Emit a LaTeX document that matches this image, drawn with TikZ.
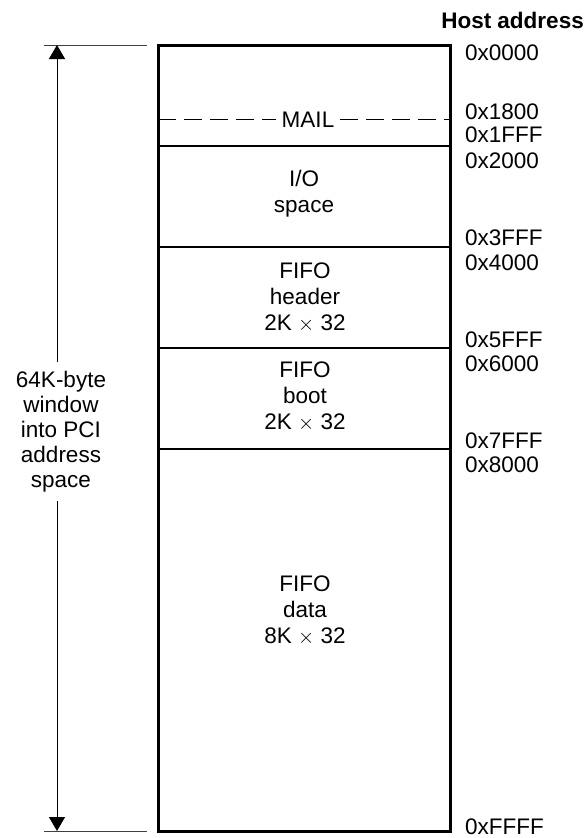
\documentclass[tikz,border=0pt]{standalone}
\usepackage{fontspec}
\setmainfont{Liberation Sans}
\usetikzlibrary{arrows.meta,positioning}
\tikzset{
  addr/.style={anchor=base west,inner sep=0pt},
  region/.style={align=center,anchor=base,inner sep=0pt},
  divider/.style={line width=1.1pt},
  edgeline/.style={line width=0.9pt,black!75},
  maplimit/.style={line width=3pt,line join=miter},
  mailline/.style={line width=1pt,dash pattern=on 18pt off 8pt},
  window/.style={line width=1pt,-{Triangle[length=14pt,width=16pt]}},
}

\begin{document}
\begin{tikzpicture}[x=1pt,y=-1pt,font=\fontsize{22.5}{26}\selectfont]
  \useasboundingbox (0,0) rectangle (586,838);

  % Memory map frame
  \coordinate (mtl) at (158,45);
  \coordinate (mbr) at (450,831);
  \draw[maplimit] (mtl) rectangle (mbr);

  % Region borders
  \foreach \y in {146,247,348,449}
    \draw[divider] (158,\y) -- (450,\y);

  % Mailbox area
  \node[inner sep=6pt] (mail) at (308,120) {MAIL};
  \draw[mailline] (158,119) -- (mail.west |- 0,119);
  \draw[mailline] (mail.east |- 0,119) -- (450,119);

  % Region texts (base = last line)
  \node[region] (iosp) at (304,212) {I/O\\space};
  \node[region] (fhead) at (305,330) {FIFO\\header\\2K $\times$ 32};
  \node[region] (fboot) at (305,429) {FIFO\\boot\\2K $\times$ 32};
  \node[region] (fdata) at (305,643) {FIFO\\data\\8K $\times$ 32};

  % Host addresses
  \node[anchor=base east,inner sep=0pt,font=\fontsize{22.5}{26}\selectfont\bfseries]
    (host) at (584,28) {Host address};
  \node[addr] (a0000) at (465,60)  {0x0000};
  \node[addr] (a1800) at (465,119) {0x1800};
  \node[addr] (a1fff) at (465,142) {0x1FFF};
  \node[addr] (a2000) at (465,168) {0x2000};
  \node[addr] (a3fff) at (465,245) {0x3FFF};
  \node[addr] (a4000) at (465,270) {0x4000};
  \node[addr] (a5fff) at (465,347) {0x5FFF};
  \node[addr] (a6000) at (465,371) {0x6000};
  \node[addr] (a7fff) at (465,448) {0x7FFF};
  \node[addr] (a8000) at (465,472) {0x8000};
  \node[addr] (affff) at (465,834) {0xFFFF};

  % PCI window
  \coordinate (wtop) at (57,45);
  \coordinate (wbot) at (57,831);
  \draw[edgeline] (44,45) -- (147,45);
  \draw[edgeline] (44,831) -- (147,831);
  \node[region,inner sep=9pt,font=\fontsize{22.5}{25}\selectfont] (win) at (61,487)
    {64K-byte\\window\\into PCI\\address\\space};
  \draw[window] (win.north -| wtop) -- (wtop);
  \draw[window] (win.south -| wbot) -- (wbot);

\end{tikzpicture}
\end{document}
